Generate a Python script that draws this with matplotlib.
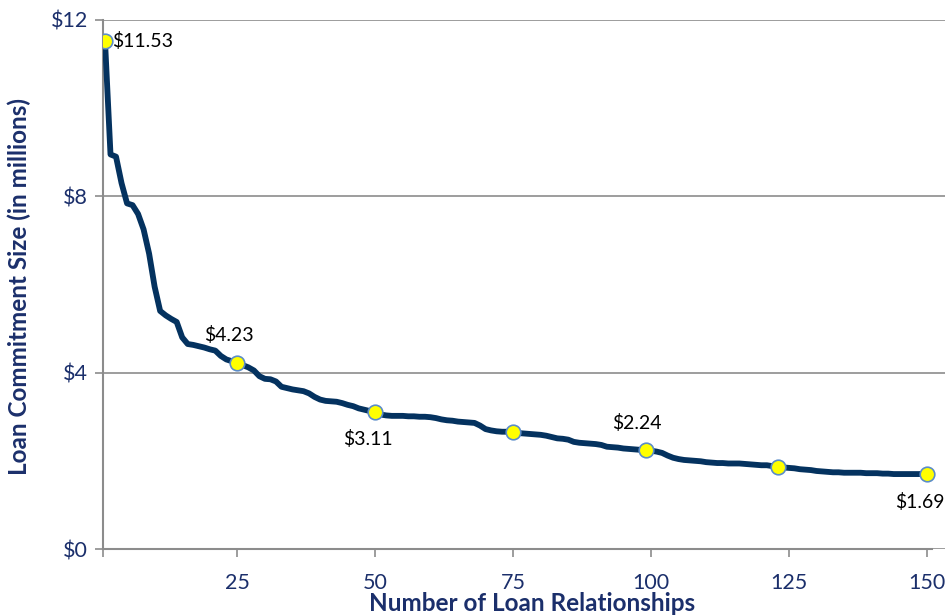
import matplotlib.pyplot as plt
import numpy as np

# loan commitment size (in $ millions) for each loan relationship, ranked largest first
commitment = [
    11.53, 8.95, 8.90, 8.30, 7.84, 7.80, 7.60, 7.25, 6.70, 5.95,
    5.40, 5.30, 5.22, 5.15, 4.80, 4.65, 4.63, 4.60, 4.57, 4.53,
    4.50, 4.38, 4.30, 4.26, 4.23, 4.17, 4.12, 4.05, 3.92, 3.86,
    3.85, 3.80, 3.68, 3.65, 3.62, 3.60, 3.58, 3.53, 3.45, 3.39,
    3.36, 3.35, 3.34, 3.31, 3.27, 3.24, 3.19, 3.16, 3.13, 3.11,
    3.05, 3.03, 3.02, 3.02, 3.02, 3.01, 3.01, 3.00, 3.00, 2.99,
    2.97, 2.94, 2.92, 2.91, 2.89, 2.88, 2.87, 2.86, 2.80, 2.72,
    2.69, 2.67, 2.66, 2.66, 2.65, 2.63, 2.62, 2.61, 2.60, 2.59,
    2.57, 2.54, 2.51, 2.50, 2.48, 2.43, 2.41, 2.40, 2.39, 2.38,
    2.36, 2.32, 2.31, 2.30, 2.28, 2.27, 2.26, 2.25, 2.24, 2.23,
    2.21, 2.18, 2.12, 2.07, 2.04, 2.02, 2.01, 2.00, 1.99, 1.97,
    1.96, 1.95, 1.95, 1.94, 1.94, 1.94, 1.93, 1.92, 1.91, 1.90,
    1.90, 1.88, 1.86, 1.85, 1.84, 1.83, 1.81, 1.80, 1.79, 1.77,
    1.76, 1.75, 1.74, 1.74, 1.73, 1.73, 1.73, 1.73, 1.72, 1.72,
    1.72, 1.71, 1.71, 1.70, 1.70, 1.70, 1.70, 1.70, 1.70, 1.69,
]
relationships = np.arange(1, len(commitment) + 1)

# highlighted points and which of them get a label
marker_idx = [1, 25, 50, 75, 99, 123, 150]
labelled = {1: 'right', 25: 'above', 50: 'below', 99: 'above', 150: 'below'}

yticks = [0, 4, 8, 12]
xticks = [25, 50, 75, 100, 125, 150]

navy = '#04325F'
text_navy = '#1B2F6B'
grey = '#8C8C8C'

plt.rcParams['font.family'] = ['Lato', 'DejaVu Sans']

fig = plt.figure(figsize=(9.47, 6.16), dpi=100)
ax = fig.add_axes([103 / 947, 1 - 549 / 616, 842 / 947, 529 / 616])

ax.plot(relationships, commitment, color=navy, linewidth=4.2, solid_capstyle='round',
        solid_joinstyle='round', zorder=3)

mx = [relationships[i - 1] for i in marker_idx]
my = [commitment[i - 1] for i in marker_idx]
ax.plot(mx, my, linestyle='none', marker='o', markersize=10.5, markerfacecolor='#FFFF00',
        markeredgecolor='#5B8CC8', markeredgewidth=1.2, zorder=4)

for i, where in labelled.items():
    v = commitment[i - 1]
    lab = f'${v:.2f}'
    if where == 'right':
        ax.annotate(lab, (i, v), xytext=(5, 0), textcoords='offset points',
                    ha='left', va='center', fontsize=14, color='black')
    elif where == 'above':
        ax.annotate(lab, (i, v), xytext=(-6, 13), textcoords='offset points',
                    ha='center', va='bottom', fontsize=14, color='black')
    else:
        ax.annotate(lab, (i, v), xytext=(-5, -13), textcoords='offset points',
                    ha='center', va='top', fontsize=14, color='black')

# axes limits so that point 1 sits just right of the y axis
x_left = 0.64
ax.set_xlim(x_left, 153.3)
ax.set_ylim(0, 12)

ax.set_yticks(yticks)
ax.set_yticklabels([f'${t}' for t in yticks])
ax.set_xticks([x_left] + xticks)
ax.set_xticklabels([''] + [str(t) for t in xticks])
ax.tick_params(axis='both', colors=grey, labelcolor=text_navy, labelsize=15.5,
               length=6, width=1.2, direction='out')
ax.tick_params(axis='x', pad=11)
ax.tick_params(axis='y', pad=5)

ax.grid(axis='y', color=grey, linewidth=1.2)
ax.set_axisbelow(True)
for s in ['top', 'right']:
    ax.spines[s].set_visible(False)
for s in ['left', 'bottom']:
    ax.spines[s].set_color(grey)
    ax.spines[s].set_linewidth(1.5)
ax.spines['bottom'].set_bounds(x_left, 151)

ax.set_xlabel('Number of Loan Relationships', fontsize=17.5, fontweight='bold', color=text_navy,
              va='center')
ax.xaxis.set_label_coords(0.51, -0.103)
ax.set_ylabel('Loan Commitment Size (in millions)', fontsize=17.5, fontweight='bold', color=text_navy,
              va='center')
ax.yaxis.set_label_coords(-0.1, 0.497)

plt.savefig('out.png', dpi=100)
